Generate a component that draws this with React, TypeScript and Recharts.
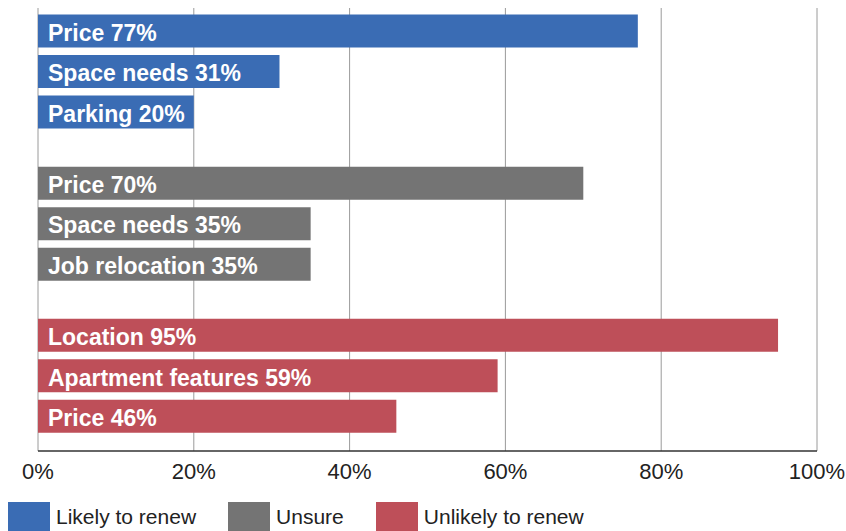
import { BarChart, Bar, XAxis, YAxis, CartesianGrid, LabelList, Cell } from 'recharts';

const groups = ['Likely to renew', 'Unsure', 'Unlikely to renew'];
const reasons = [
  ['Price', 'Space needs', 'Parking'],
  ['Price', 'Space needs', 'Job relocation'],
  ['Location', 'Apartment features', 'Price'],
];
const shares = [
  [77, 31, 20],
  [70, 35, 35],
  [95, 59, 46],
];
const xTicks = [0, 20, 40, 60, 80, 100];

const groupColors = ['#3A6CB4', '#747474', '#BE4F59'];
const slots = [0, 1, 2];

const data = groups.map((g, i) => {
  const row: any = { group: g };
  slots.forEach((s) => {
    row['v' + s] = shares[i][s];
    row['l' + s] = `${reasons[i][s]} ${shares[i][s]}%`;
  });
  return row;
});

const labelFont = '"Liberation Sans", Arial, sans-serif';

export default function App() {
  return (
    <div style={{ position: 'absolute', left: 0, top: 0, width: 846, height: 531, overflow: 'hidden', background: '#fff' }}>
      <BarChart
        width={846}
        height={531}
        data={data}
        layout="vertical"
        margin={{ top: 8, right: 29, bottom: 50, left: 38 }}
        barSize={33}
        barGap={7.5}
      >
        <CartesianGrid horizontal={false} stroke="#9a9a9a" />
        <XAxis
          type="number"
          domain={[0, 100]}
          ticks={xTicks}
          tickFormatter={(v) => `${v}%`}
          height={30}
          tickLine={false}
          tickSize={0}
          tickMargin={12}
          axisLine={{ stroke: '#333', strokeWidth: 1.5 }}
          tick={{ fill: '#222', fontSize: 22, fontFamily: labelFont }}
        />
        <YAxis
          type="category"
          dataKey="group"
          width={0}
          tick={false}
          tickLine={false}
          padding={{ top: -12.6, bottom: -1.1 }}
          axisLine={{ stroke: '#333', strokeWidth: 1.5 }}
        />
        {slots.map((s) => (
          <Bar key={s} dataKey={'v' + s} isAnimationActive={false}>
            {data.map((_, i) => (
              <Cell key={i} fill={groupColors[i]} />
            ))}
            <LabelList
              dataKey={'l' + s}
              position="insideLeft"
              offset={10}
              dy={1.5}
              fill="#fff"
              fontSize={23}
              fontWeight="bold"
              fontFamily={labelFont}
            />
          </Bar>
        ))}
      </BarChart>
      <div style={{ position: 'absolute', left: 8, top: 502, display: 'flex', alignItems: 'flex-start', fontFamily: labelFont, fontSize: 21, color: '#222' }}>
        {groups.map((g, i) => (
          <div key={g} style={{ display: 'flex', alignItems: 'flex-start', marginRight: 32 }}>
            <div style={{ width: 42, height: 40, background: groupColors[i], marginRight: 6 }} />
            <span style={{ lineHeight: '30px' }}>{g}</span>
          </div>
        ))}
      </div>
    </div>
  );
}
